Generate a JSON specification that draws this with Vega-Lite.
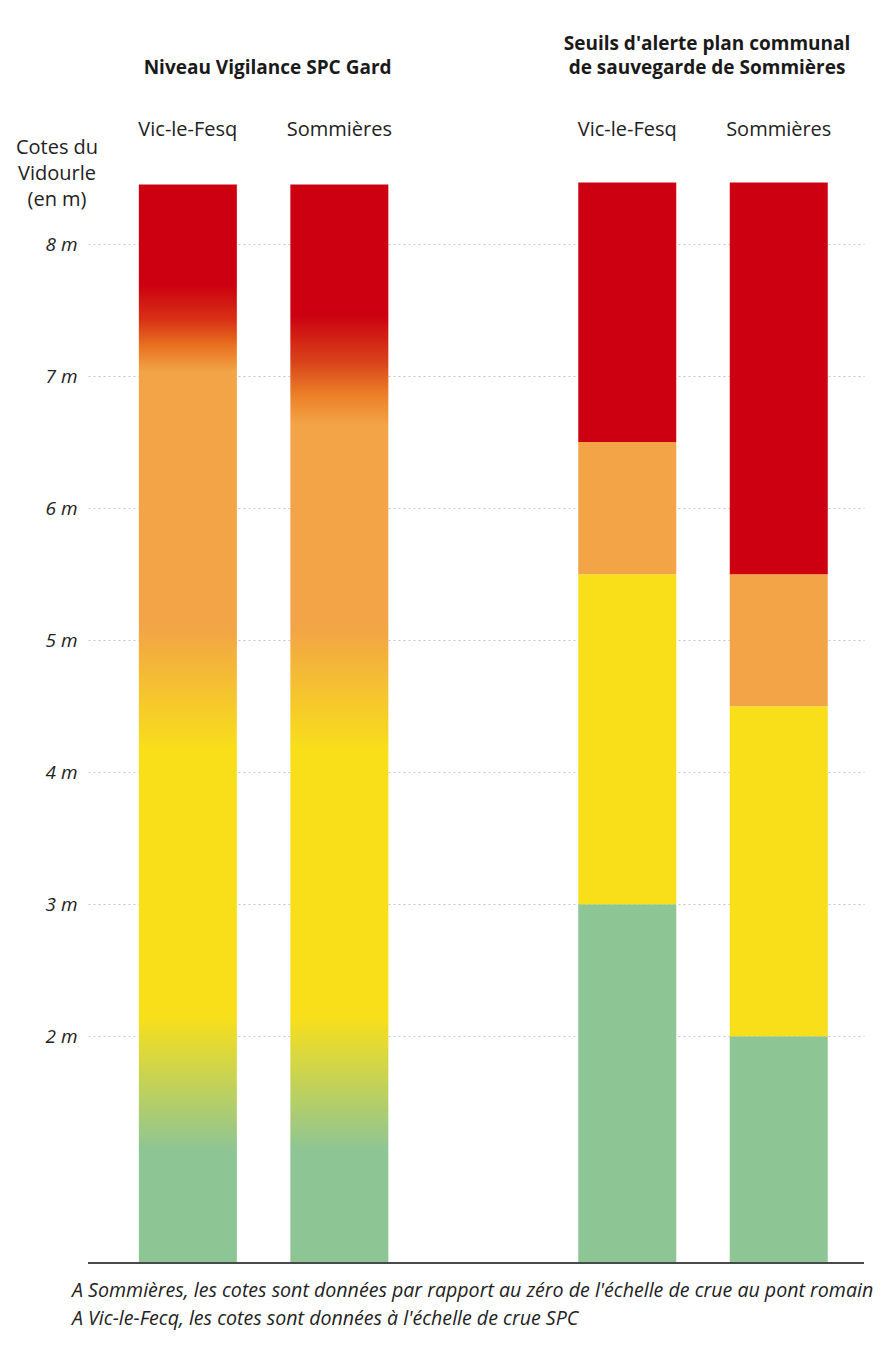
{
  "$schema": "https://vega.github.io/schema/vega-lite/v6.json",
  "width": 776,
  "height": 1085,
  "autosize": {"type": "none"},
  "padding": {"left": 88, "top": 178, "right": 22, "bottom": 82},
  "background": "#ffffff",
  "config": {"view": {"stroke": null}, "font": "Open Sans"},
  "title": {
    "text": ["A Sommières, les cotes sont données par rapport au zéro de l'échelle de crue au pont romain", "A Vic-le-Fecq, les cotes sont données à l'échelle de crue SPC"],
    "orient": "bottom", "anchor": "start", "frame": "group", "offset": 18, "dx": -16,
    "baseline": "top", "font": "Open Sans", "fontSize": 19.6, "fontStyle": "italic", "fontWeight": "normal",
    "color": "#222222", "lineHeight": 28
  },
  "data": {"values": [
    {"groupe": "SPC", "station": "Vic-le-Fesq", "niveau": "dégradé", "bas": 0, "haut": 8.45},
    {"groupe": "SPC", "station": "Sommières", "niveau": "dégradé", "bas": 0, "haut": 8.45},
    {"groupe": "PCS", "station": "Vic-le-Fesq", "niveau": "vert", "bas": 0, "haut": 3},
    {"groupe": "PCS", "station": "Vic-le-Fesq", "niveau": "jaune", "bas": 3, "haut": 5.5},
    {"groupe": "PCS", "station": "Vic-le-Fesq", "niveau": "orange", "bas": 5.5, "haut": 6.5},
    {"groupe": "PCS", "station": "Vic-le-Fesq", "niveau": "rouge", "bas": 6.5, "haut": 8.465},
    {"groupe": "PCS", "station": "Sommières", "niveau": "vert", "bas": 0, "haut": 2},
    {"groupe": "PCS", "station": "Sommières", "niveau": "jaune", "bas": 2, "haut": 4.5},
    {"groupe": "PCS", "station": "Sommières", "niveau": "orange", "bas": 4.5, "haut": 5.5},
    {"groupe": "PCS", "station": "Sommières", "niveau": "rouge", "bas": 5.5, "haut": 8.465}
  ]},
  "layer": [
    {
      "transform": [{"filter": "datum.groupe == 'PCS'"}],
      "mark": {"type": "bar", "stroke": null},
      "encoding": {
        "x": {"field": "groupe", "type": "nominal", "sort": ["SPC", "PCS"],
          "scale": {"domain": ["SPC", "PCS"], "paddingInner": 0.3, "paddingOuter": 0.033, "align": 0.752, "round": false},
          "axis": {"orient": "top", "title": null, "domain": false, "ticks": false, "tickSize": 0, "labelAngle": 0,
            "labelPadding": 125, "labelBaseline": "bottom", "labelFont": "Open Sans", "labelFontSize": 19,
            "labelFontWeight": "bold", "labelColor": "#1a1a1a", "labelLimit": 0, "labelLineHeight": 24,
            "labelOffset": 4, "labelOverlap": false, "labelFlush": false,
            "labelExpr": "datum.value == 'PCS' ? [\"Seuils d'alerte plan communal\", 'de sauvegarde de Sommières'] : [' ', 'Niveau Vigilance SPC Gard']"}},
        "xOffset": {"field": "station", "type": "nominal", "sort": ["Vic-le-Fesq", "Sommières"],
          "scale": {"domain": ["Vic-le-Fesq", "Sommières"], "paddingInner": 0.3531, "paddingOuter": 0.1917, "round": false}},
        "y": {"field": "bas", "type": "quantitative",
          "scale": {"domain": [0.283, 8.5], "clamp": true, "zero": false, "nice": false},
          "axis": {"title": ["Cotes du", "Vidourle", "(en m)"], "titleAngle": 0, "titleAlign": "center", "titleBaseline": "top",
            "titleX": -31.5, "titleY": -41, "titleFont": "Open Sans", "titleFontSize": 20, "titleFontWeight": "normal",
            "titleColor": "#222222", "titleLineHeight": 26,
            "values": [2, 3, 4, 5, 6, 7, 8], "labelExpr": "datum.value + ' m'", "labelFont": "Open Sans",
            "labelFontSize": 19, "labelFontStyle": "italic", "labelColor": "#222222", "labelPadding": 11,
            "ticks": false, "domain": false, "grid": true, "gridDash": [2, 3], "gridColor": "#c4c4c4", "gridWidth": 1}},
        "y2": {"field": "haut"},
        "color": {"field": "niveau", "type": "nominal",
          "scale": {"domain": ["vert", "jaune", "orange", "rouge"], "range": ["#8ec594", "#f8df1a", "#f2a446", "#cc0010"]},
          "legend": null}
      }
    },
    {
      "transform": [{"filter": "datum.groupe == 'SPC' && datum.station == 'Vic-le-Fesq'"}],
      "mark": {"type": "bar", "stroke": null, "color": {"gradient": "linear", "x1": 0, "y1": 0, "x2": 0, "y2": 1, "stops": [
        {"offset": 0, "color": "#cc0010"},
        {"offset": 0.0931, "color": "#cc0010"},
        {"offset": 0.1256, "color": "#d83216"},
        {"offset": 0.1487, "color": "#e8701f"},
        {"offset": 0.1738, "color": "#f2a446"},
        {"offset": 0.4102, "color": "#f2a446"},
        {"offset": 0.5243, "color": "#f8df1a"},
        {"offset": 0.7720, "color": "#f8df1a"},
        {"offset": 0.8952, "color": "#8ec594"},
        {"offset": 1, "color": "#8ec594"}
      ]}},
      "encoding": {
        "x": {"field": "groupe", "type": "nominal", "sort": ["SPC", "PCS"]},
        "xOffset": {"field": "station", "type": "nominal", "sort": ["Vic-le-Fesq", "Sommières"]},
        "y": {"field": "bas", "type": "quantitative"},
        "y2": {"field": "haut"}
      }
    },
    {
      "transform": [{"filter": "datum.groupe == 'SPC' && datum.station == 'Sommières'"}],
      "mark": {"type": "bar", "stroke": null, "color": {"gradient": "linear", "x1": 0, "y1": 0, "x2": 0, "y2": 1, "stops": [
        {"offset": 0, "color": "#cc0010"},
        {"offset": 0.1209, "color": "#cc0010"},
        {"offset": 0.1626, "color": "#d8401a"},
        {"offset": 0.1951, "color": "#ec8028"},
        {"offset": 0.2229, "color": "#f2a446"},
        {"offset": 0.4102, "color": "#f2a446"},
        {"offset": 0.5243, "color": "#f8df1a"},
        {"offset": 0.7720, "color": "#f8df1a"},
        {"offset": 0.8952, "color": "#8ec594"},
        {"offset": 1, "color": "#8ec594"}
      ]}},
      "encoding": {
        "x": {"field": "groupe", "type": "nominal", "sort": ["SPC", "PCS"]},
        "xOffset": {"field": "station", "type": "nominal", "sort": ["Vic-le-Fesq", "Sommières"]},
        "y": {"field": "bas", "type": "quantitative"},
        "y2": {"field": "haut"}
      }
    },
    {
      "transform": [{"filter": "datum.haut > 8"}],
      "mark": {"type": "text", "font": "Open Sans", "fontSize": 20, "color": "#222222", "align": "center", "baseline": "alphabetic", "dy": -47},
      "encoding": {
        "x": {"field": "groupe", "type": "nominal", "sort": ["SPC", "PCS"]},
        "xOffset": {"field": "station", "type": "nominal", "sort": ["Vic-le-Fesq", "Sommières"]},
        "y": {"datum": 8.46, "type": "quantitative"},
        "text": {"field": "station", "type": "nominal"}
      }
    },
    {
      "mark": {"type": "rule", "color": "#4a4a4a", "strokeWidth": 1.5},
      "encoding": {"y": {"datum": 0.283, "type": "quantitative"}}
    }
  ]
}
